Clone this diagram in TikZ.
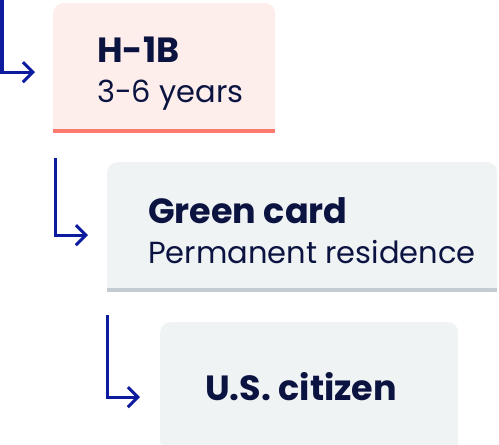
\documentclass[tikz,border=0pt]{standalone}
\usepackage{fontspec}
\setmainfont{Poppins}
\usetikzlibrary{arrows.meta,positioning,backgrounds}
\definecolor{navy}{HTML}{0B1340}
\definecolor{arrowblue}{HTML}{0D1B9E}
\definecolor{salmon}{HTML}{FDEDEB}
\definecolor{coral}{HTML}{FF7B70}
\definecolor{mist}{HTML}{F0F3F4}
\definecolor{slate}{HTML}{C3CCD1}
\newcommand{\stagetitle}[1]{{\fontsize{35}{40}\selectfont\bfseries #1}}

\begin{document}
\begin{tikzpicture}[x=1pt,y=-1pt,
	stage/.style={anchor=north west,rounded corners=10pt,minimum height=130pt,inner sep=0pt},
	stagetext/.style={inner sep=0pt,align=left,text=navy,font=\fontsize{30.5}{40}\selectfont},
	flow/.style={draw=arrowblue,line width=3pt,-{Straight Barb[length=10pt,width=20pt,line width=3pt]}}]
	\clip (0,0) rectangle (499,445);
	% the three steps
	\node[stage,fill=salmon,minimum width=222pt] (h1b) at (53,3) {};
	\node[stage,fill=mist,minimum width=390pt] (green) at (107,162) {};
	\node[stage,fill=mist,minimum width=298pt] (citizen) at (160,322) {};
	\begin{scope}[on background layer]
		\fill[salmon] (h1b.west) rectangle (h1b.south east);
		\fill[mist] (green.west) rectangle (green.south east);
	\end{scope}
	\fill[coral] ([yshift=4.5pt]h1b.south west) rectangle (h1b.south east);
	\fill[slate] ([yshift=4.5pt]green.south west) rectangle (green.south east);
	\node[stagetext,anchor=north west] (h1btext) at ([xshift=44pt,yshift=-34pt]h1b.north west) {\stagetitle{H-1B}\\3-6 years};
	\node[stagetext,anchor=north west] (greentext) at ([xshift=41pt,yshift=-35pt]green.north west) {\stagetitle{Green card}\\Permanent residence};
	\node[stagetext,anchor=west] (citizentext) at ([xshift=45pt,yshift=1pt]citizen.west) {\stagetitle{U.S. citizen}};
	% arrows
	\coordinate (top1) at (2,-2);
	\coordinate (top2) at (55,158);
	\coordinate (top3) at (107,315);
	\coordinate[left=18pt of h1b.west,yshift=-4pt] (tip1);
	\coordinate[left=19pt of green.west,yshift=-8pt] (tip2);
	\coordinate[left=20pt of citizen.west,yshift=-10pt] (tip3);
	\draw[flow] (top1) |- (tip1);
	\draw[flow] (top2) |- (tip2);
	\draw[flow] (top3) |- (tip3);
\end{tikzpicture}
\end{document}
